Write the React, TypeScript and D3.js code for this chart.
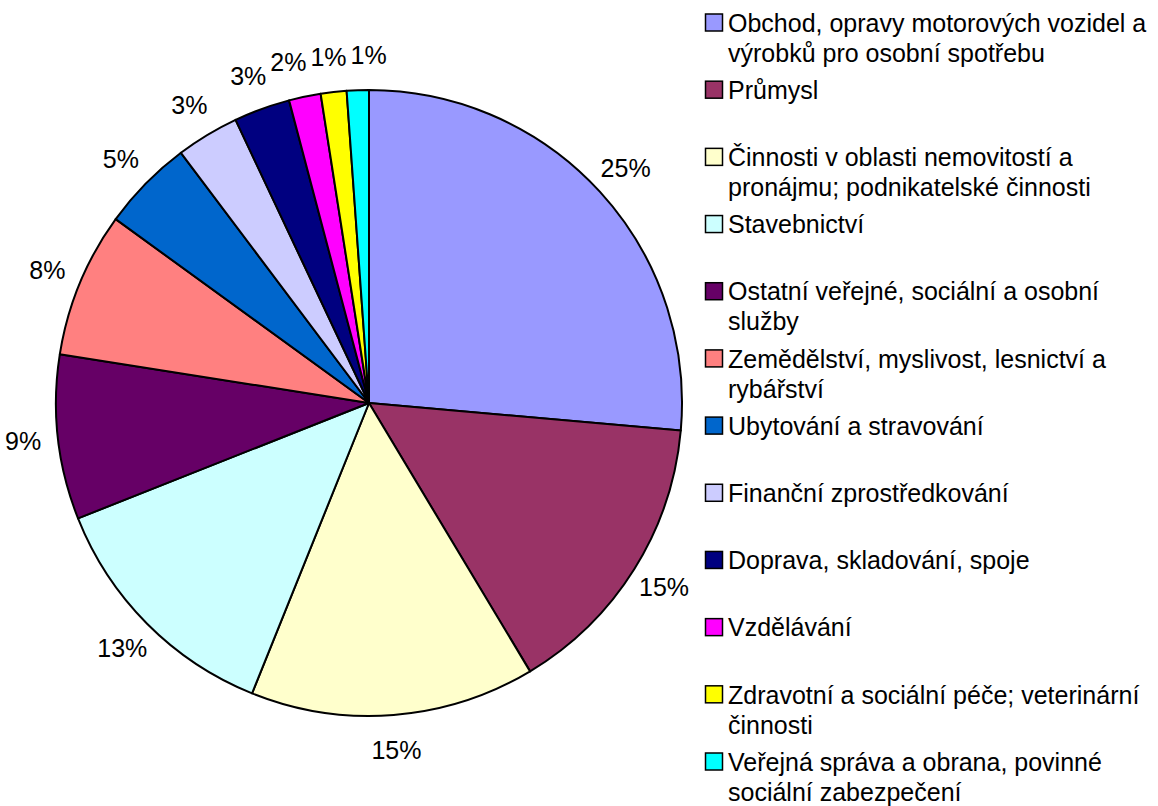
import React from 'react';
import * as d3 from 'd3';

// shares (clockwise from 12 o'clock)
const categories = [
  'Obchod, opravy motorových vozidel a|výrobků pro osobní spotřebu',
  'Průmysl',
  'Činnosti v oblasti nemovitostí a|pronájmu; podnikatelské činnosti',
  'Stavebnictví',
  'Ostatní veřejné, sociální a osobní|služby',
  'Zemědělství, myslivost, lesnictví a|rybářství',
  'Ubytování a stravování',
  'Finanční zprostředkování',
  'Doprava, skladování, spoje',
  'Vzdělávání',
  'Zdravotní a sociální péče; veterinární|činnosti',
  'Veřejná správa a obrana, povinné|sociální zabezpečení',
];
const shares = [26.4, 15.0, 14.7, 12.9, 8.5, 7.5, 4.75, 3.25, 2.9, 1.64, 1.33, 1.14];
const pctLabels = ['25%', '15%', '15%', '13%', '9%', '8%', '5%', '3%', '3%', '2%', '1%', '1%'];
const colors = [
  '#9999FF', '#993366', '#FFFFCC', '#CCFFFF', '#660066', '#FF8080',
  '#0066CC', '#CCCCFF', '#000080', '#FF00FF', '#FFFF00', '#00FFFF',
];

const W = 1158;
const H = 806;
const cx = 369;
const cy = 403;
const R = 313;
const FONT = '"Liberation Sans", Arial, sans-serif';
const FS = 25;

function textWidth(s: string) {
  let w = 0;
  for (const ch of s) w += ch === '%' ? 0.889 : 0.556;
  return w * FS;
}

export default function App() {
  const pie = d3.pie<number>().sort(null).value(d => d);
  const arcs = pie(shares);
  const arc = d3.arc<d3.PieArcDatum<number>>().innerRadius(0).outerRadius(R);
  const labelArc = d3.arc<d3.PieArcDatum<number>>().innerRadius(348).outerRadius(348);

  // label positions, then push apart the ones that overlap
  const labels = arcs.map((a, i) => {
    const [x, y] = labelArc.centroid(a);
    return { x, y, w: textWidth(pctLabels[i]), text: pctLabels[i] };
  });
  for (let it = 0; it < 60; it++) {
    for (let i = 0; i < labels.length; i++) {
      for (let j = i + 1; j < labels.length; j++) {
        const a = labels[i], b = labels[j];
        const need = (a.w + b.w) / 2 + 4;
        const dx = b.x - a.x;
        if (Math.abs(dx) < need && Math.abs(b.y - a.y) < FS) {
          const push = (need - Math.abs(dx)) / 2;
          const s = dx >= 0 ? 1 : -1;
          a.x -= push * s;
          b.x += push * s;
        }
      }
    }
  }

  const legendY = d3.scalePoint<string>().domain(categories).range([23, 762]);

  return (
    <svg width={W} height={H} style={{ position: 'absolute', left: 0, top: 0, background: '#fff' }}
      fontFamily={FONT}>
      <g transform={`translate(${cx},${cy})`}>
        {arcs.map((a, i) => (
          <path key={i} d={arc(a) || ''} fill={colors[i]} stroke="#000" strokeWidth={2}
            strokeLinejoin="round" />
        ))}
        {labels.map((l, i) => (
          <text key={i} x={l.x} y={l.y} dy="0.35em" textAnchor="middle" fontSize={FS} fill="#000">
            {l.text}
          </text>
        ))}
      </g>
      <g>
        {categories.map((c, i) => {
          const y = legendY(c) as number;
          const lines = c.split('|');
          return (
            <g key={i}>
              <rect x={705.5} y={y - 9} width={17} height={17} fill={colors[i]} stroke="#000" strokeWidth={1.5} />
              {lines.map((ln, k) => (
                <text key={k} x={728} y={y + k * 30} dy="0.35em" fontSize={FS} fill="#000">
                  {ln}
                </text>
              ))}
            </g>
          );
        })}
      </g>
    </svg>
  );
}
